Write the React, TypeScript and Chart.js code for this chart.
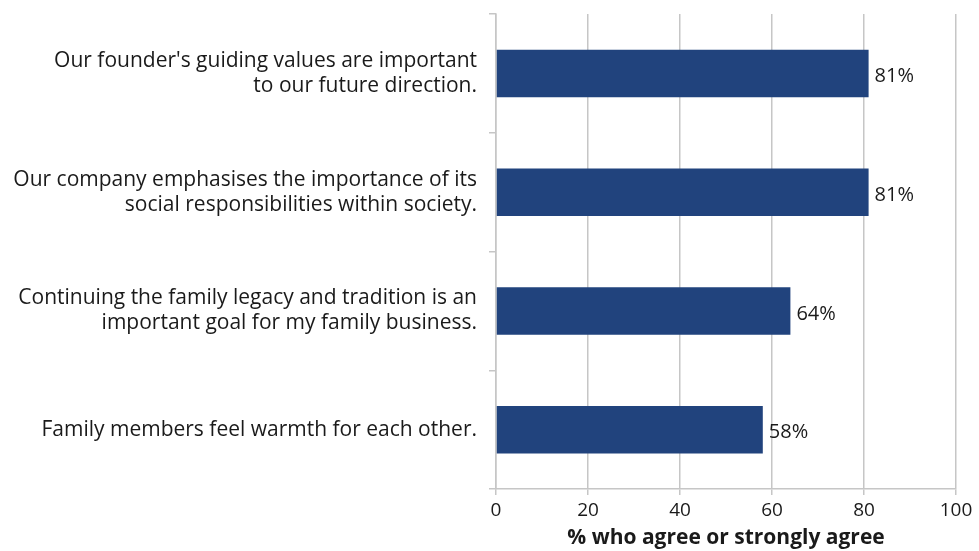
import React, { useEffect, useRef } from "react";
import { Chart, registerables } from "chart.js";

Chart.register(...registerables);

const categories: string[][] = [
  ["Our founder's guiding values are important", "to our future direction."],
  ["Our company emphasises the importance of its", "social responsibilities within society."],
  ["Continuing the family legacy and tradition is an", "important goal for my family business."],
  ["Family members feel warmth for each other."],
];
const values: number[] = [81, 81, 64, 58];
const xTicks: number[] = [0, 20, 40, 60, 80, 100];
const xTitle = "% who agree or strongly agree";

const FONT = "'Open Sans', sans-serif";

const valueLabels = {
  id: "valueLabels",
  afterDatasetsDraw(chart: any) {
    const ctx = chart.ctx;
    const meta = chart.getDatasetMeta(0);
    ctx.save();
    ctx.font = `20px ${FONT}`;
    ctx.fillStyle = "#1a1a1a";
    ctx.textAlign = "left";
    ctx.textBaseline = "middle";
    meta.data.forEach((bar: any, i: number) => {
      ctx.fillText(`${values[i]}%`, bar.x + 6, bar.y + 3);
    });
    ctx.restore();
  },
};

export default function App() {
  const ref = useRef<HTMLCanvasElement>(null);
  useEffect(() => {
    document.body.style.margin = "0";
    const chart = new Chart(ref.current!, {
      type: "bar",
      data: {
        labels: categories,
        datasets: [
          {
            data: values,
            backgroundColor: "#21437d",
            borderWidth: 0,
            categoryPercentage: 0.4,
            barPercentage: 1,
          },
        ],
      },
      options: {
        indexAxis: "y",
        animation: false,
        responsive: true,
        maintainAspectRatio: false,
        layout: { padding: { top: 14, right: 23, bottom: 0, left: 0 } },
        plugins: { legend: { display: false }, tooltip: { enabled: false } },
        scales: {
          x: {
            min: 0,
            max: 100,
            afterBuildTicks: (scale: any) => {
              scale.ticks = xTicks.map((v) => ({ value: v }));
            },
            grid: {
              color: "#c6c6c6",
              lineWidth: 1.5,
              tickLength: 6,
              drawTicks: true,
            },
            border: { color: "#c6c6c6", width: 1.5 },
            ticks: {
              font: { family: FONT, size: 19 },
              color: "#1a1a1a",
              padding: 4,
            },
            title: {
              display: true,
              text: xTitle,
              font: { family: FONT, size: 21, weight: "bold" },
              color: "#1a1a1a",
              padding: { top: 0, bottom: 0 },
            },
            afterFit: (scale: any) => {
              scale.height = 62;
              scale.paddingLeft = 0;
              scale.paddingRight = 0;
            },
          },
          y: {
            grid: {
              offset: true,
              drawOnChartArea: false,
              color: "#c6c6c6",
              lineWidth: 1.5,
              tickLength: 7,
            },
            border: { color: "#c6c6c6", width: 1.5 },
            ticks: {
              font: { family: FONT, size: 21, lineHeight: 1.2 },
              color: "#1a1a1a",
              padding: 12,
            },
            afterFit: (scale: any) => {
              scale.width = 496;
              scale.paddingTop = 0;
              scale.paddingBottom = 0;
            },
          },
        },
      },
      plugins: [valueLabels],
    });
    return () => chart.destroy();
  }, []);
  return (
    <div style={{ position: "fixed", left: 0, top: 0, width: 979, height: 551 }}>
      <canvas ref={ref} />
    </div>
  );
}
